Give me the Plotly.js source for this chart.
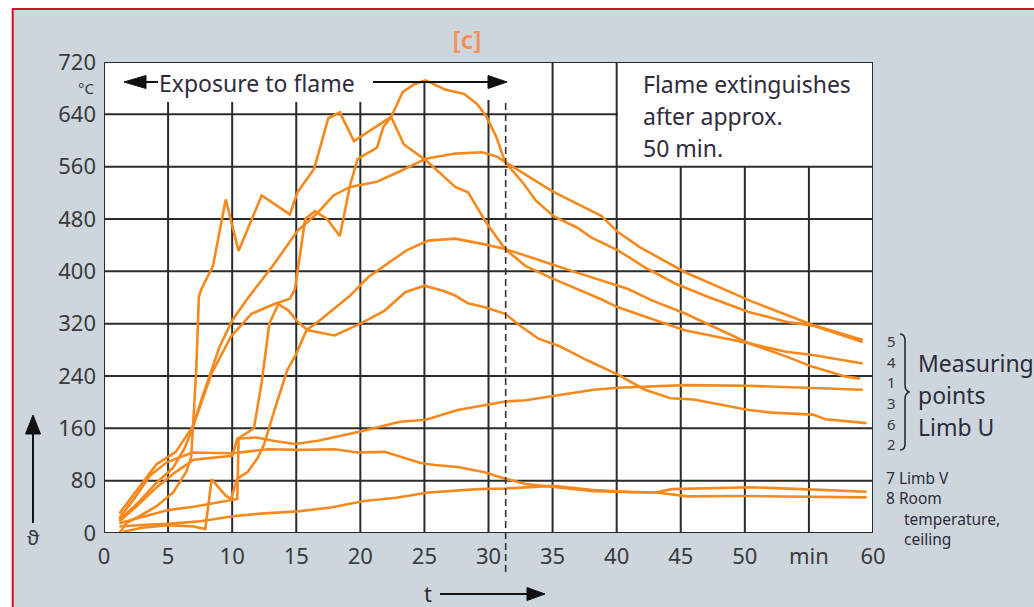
<!DOCTYPE html>
<html><head><meta charset="utf-8">
<script src="https://cdn.plot.ly/plotly-3.0.1.min.js"></script>
<style>body{margin:0;padding:0;background:#fff}#chart{width:1034px;height:607px}</style>
</head><body><div id="chart"></div>
<script>
// ---------- data (time in min, temperature in °C) ----------
const t5 = [1.2,2.8,4.1,5.6,6.9,7.7,8.5,9.0,10,11.3,13.3,15.1,16.7,17.9,19.2,21.3,23.1,25.1,27.4,29.5,30.7,31.3,33.2,35.1,38.8,40.1,41.8,45.3,50.3,55.3,59.2];
const v5 = [30,72,105,124,162,209,254,284,325,361,412,462,490,516,529,537,553,572,580,582,575,567,544,521,485,460,437,399,356,318,295];

const t4a = [1.2,2.6,4.0,5.4,6.3,6.9,8.4,9.9,11.5,13.3,14.5,14.9,15.7,16.45,17.4,18.4,19.2,19.8,21.3,21.8,22.4,23.3,24.2,25.1,26.6,28.1,29.1,29.8,30.6,31.3,32.7,33.7,35.1,36.9,38.0,40.1,42.2,44.6,47,50.3,53.2,55.3,59.2];
const v4a = [20,45,75,100,130,160,244,300,335,350,358,373,480,492,480,454,532,572,589,621,636,674,686,692,678,671,656,638,606,567,535,508,484,467,452,432,406,381,362,338,323,317,292];

const t4 = [1.5,3,5,7,7.9,8.4,9.5,9.9,10.4,11.2,12,12.5,13.3,14.3,15,15.8,16.7,19.1,20.6,22.1,23.6,25.3,27.4,29.5,31.3,33.7,36.9,40.9,42.7,45.3,50.3,53.2,55.3,59.2];
const v4 = [2,8,12,10,6,82,57,52,83,93,115,136,188,249,274,310,323,361,391,411,432,447,450,442,434,419,398,373,356,336,290,277,272,259];

const t1 = [1.2,1.8,2.8,4.1,5.4,6.4,6.8,6.95,7.2,7.4,7.6,8.5,8.8,9.5,10.5,12.3,14.5,15.1,16.4,17.5,18.4,19.5,22.4,23.4,25.1,27.4,28.4,29.8,31.3,32.9,35.1,36.9,38.7,40.1,45.3,50.3,53.2,55.3,57.9,59];
const v1 = [0,16,26,41,62,93,115,163,250,361,373,408,439,510,431,516,487,521,557,634,643,599,636,594,570,529,521,475,434,408,388,373,358,345,310,290,270,254,239,236];

const t3 = [1.2,2.5,4,5.5,7,10,10.4,11.9,13.2,14.9,16.7,20,23.1,25.1,27.6,30.3,31.3,32.9,35.6,38.2,40.1,45.3,50.3,55.3,59.2];
const v3 = [18,40,68,92,112,118,144,146,141,136,141,155,170,173,188,198,201,203,211,219,222,226,225,221,219];

const t6 = [1.2,3,5,7,8.8,9.9,10.4,10.5,11.7,12.3,12.9,13.6,14.4,15.1,15.9,18,20,21.9,23.5,25,26.5,27.4,28.4,29.7,31.3,32.6,33.9,35.6,37.7,40.1,42.2,44.2,46,50.3,52.1,55.3,56.3,59.5];
const v6 = [15,25,35,40,46,50,52,145,160,230,320,350,340,323,310,302,320,340,368,378,370,363,351,345,335,315,297,285,264,242,219,206,204,188,184,181,174,168];

const t7 = [1.2,2.3,3.6,4.9,6.9,10,12.8,15.4,18,19.8,21.9,24.7,25.8,27.6,29.7,31.3,32.9,35.1,38.2,40.9,43,44.3,50.5,54.5,59.5];
const v7 = [23,51,88,108,123,122,128,127,128,123,124,107,104,101,93,83,75,70,64,63,62,67,70,67,63];

const t8 = [1.2,2.5,3.6,5,7.5,10.2,12.5,15.1,17.7,20.3,22.8,25.3,27.5,29.2,31.3,35,38,40.9,43.3,45.5,50,55,59.5];
const v8 = [10,12,13,14,18,26,30,33,39,49,54,62,65,67,68,72,66,62.5,61.5,56,56.5,55,54.5];

const series = [[t5,v5],[t4a,v4a],[t4,v4],[t1,v1],[t3,v3],[t6,v6],[t7,v7],[t8,v8]];

const xTickVals = [0,5,10,15,20,25,30,35,40,45,50,55,60];
const xTickText = ['0','5','10','15','20','25','30','35','40','45','50','min','60'];
const yTickVals = [0,80,160,240,320,400,480,560,640,720];
const yTickText = ['0','80','160','240','320','400','480','560','640','720'];
const pointLabels = ['5','4','1','3','6','2'];
const flameOut = 31.34;

// ---------- layout helpers ----------
const W=1034,H=607,ML=104,MR=161,MT=62,MB=74;
const PL=ML, PR=W-MR, PT=MT, PB=H-MB;
const px = x => (x-PL)/(PR-PL);
const py = y => (PB-y)/(PB-PT);
const FONT = 'Noto Sans, Open Sans, DejaVu Sans, sans-serif';
const ORANGE = '#f6891d';
const GRID = '#2b2b2b';
const TXT = '#2e2b3c';

const traces = series.map(s => ({
  type:'scatter', mode:'lines', x:s[0], y:s[1],
  line:{color:ORANGE, width:2.6, shape:'linear'}, hoverinfo:'skip'
}));

const shapes = [];
// outer white margin + red frame
shapes.push({type:'rect',xref:'paper',yref:'paper',x0:px(-5),x1:px(12),y0:py(620),y1:py(-5),fillcolor:'#fff',line:{width:0},layer:'below'});
shapes.push({type:'rect',xref:'paper',yref:'paper',x0:px(-5),x1:px(1040),y0:py(8),y1:py(-5),fillcolor:'#fff',line:{width:0},layer:'below'});
shapes.push({type:'line',xref:'paper',yref:'paper',x0:px(12.7),x1:px(12.7),y0:py(8.5),y1:py(620),line:{color:'#d2102e',width:2},layer:'below'});
shapes.push({type:'line',xref:'paper',yref:'paper',x0:px(12),x1:px(1040),y0:py(9),y1:py(9),line:{color:'#d2102e',width:2},layer:'below'});

// grid (custom extents)
const vTop = {5:659,10:659,15:659,20:659,25:690,30:662,35:720,40:720,45:560,50:560,55:560};
Object.keys(vTop).forEach(k=>{
  shapes.push({type:'line',xref:'x',yref:'y',x0:+k,x1:+k,y0:0,y1:vTop[k],line:{color:GRID,width:2},layer:'below'});
});
[80,160,240,320,400,480,560].forEach(v=>{
  shapes.push({type:'line',xref:'x',yref:'y',x0:0,x1:60,y0:v,y1:v,line:{color:GRID,width:2},layer:'below'});
});
shapes.push({type:'line',xref:'x',yref:'y',x0:0,x1:40.1,y0:640,y1:640,line:{color:GRID,width:2},layer:'below'});
shapes.push({type:'rect',xref:'x',yref:'y',x0:0,x1:60,y0:0,y1:720,line:{color:GRID,width:2},layer:'above'});
// flame-out dashed line
shapes.push({type:'line',xref:'x',yref:'paper',x0:flameOut,x1:flameOut,y0:py(572),y1:py(99),line:{color:'#333',width:1.6,dash:'7px,4px'},layer:'above'});

// arrows
function hline(x0,x1,y){shapes.push({type:'line',xref:'paper',yref:'paper',x0:px(x0),x1:px(x1),y0:py(y),y1:py(y),line:{color:'#111',width:2}});}
function vline(x,y0,y1){shapes.push({type:'line',xref:'paper',yref:'paper',x0:px(x),x1:px(x),y0:py(y0),y1:py(y1),line:{color:'#111',width:2}});}
function tri(p){shapes.push({type:'path',xref:'paper',yref:'paper',path:'M'+p.map(q=>px(q[0])+','+py(q[1])).join(' L')+' Z',fillcolor:'#111',line:{color:'#111',width:1}});}
hline(140,158,82); tri([[124,82],[146,75.5],[146,88.5]]);
hline(373,492,82); tri([[507,82],[488,75.5],[488,88.5]]);
vline(33,430,523); tri([[33,415],[25.5,434],[40.5,434]]);
hline(440,530,594); tri([[545,594],[527,587.5],[527,600.5]]);
// brace
shapes.push({type:'path',xref:'paper',yref:'paper',line:{color:'#222',width:1.5},
  path:`M${px(900)},${py(334)} Q${px(905)},${py(334)} ${px(905)},${py(341)} L${px(905)},${py(385)} Q${px(905)},${py(391)} ${px(909.5)},${py(392)} Q${px(905)},${py(393)} ${px(905)},${py(399)} L${px(905)},${py(444)} Q${px(905)},${py(450)} ${px(900)},${py(450)}`});

const annotations = [];
function ann(text,x,y,size,xanchor,color){
  annotations.push({text:text,xref:'paper',yref:'paper',x:px(x),y:py(y),xanchor:xanchor||'left',yanchor:'middle',showarrow:false,font:{family:FONT,size:size,color:color||TXT}});
}
ann('Exposure to flame',157,83,23,'left');
ann('Flame extinguishes',641,83.5,23,'left');
ann('after approx.',641,116,23,'left');
ann('50 min.',641,148,23,'left');
ann('°C',96,88,15,'right','#3a3a3a');
ann('ϑ',33,537,20,'center','#3a3a3a');
ann('t',428,593,22,'center','#2e2e2e');
pointLabels.forEach((d,i)=>ann(d,891,341+i*20.7,15,'center','#3a3a3a'));
ann('Measuring',916,363,23,'left');
ann('points',916,395,23,'left');
ann('Limb U',916,427,23,'left');
ann('7 Limb V',884,477.5,15.5,'left');
ann('8 Room',884,498,15.5,'left');
ann('temperature,',902,518.5,15.5,'left');
ann('ceiling',902,539,15.5,'left');

const axisFont = {family:FONT,size:22,color:'#3a3a3a'};
const layout = {
  width:W,height:H,
  margin:{l:ML,r:MR,t:MT,b:MB,pad:0},
  paper_bgcolor:'#cdd6dd',plot_bgcolor:'#ffffff',
  showlegend:false,
  title:{text:'[c]',font:{family:FONT,size:25,color:'#f0925a',weight:600},x:px(467),xref:'paper',xanchor:'center',y:1-40/H,yref:'container',yanchor:'middle'},
  xaxis:{range:[0,60],tickmode:'array',tickvals:xTickVals,ticktext:xTickText,showgrid:false,zeroline:false,showline:false,ticks:'',tickfont:axisFont,ticklabelstandoff:8,fixedrange:true},
  yaxis:{range:[0,720],tickmode:'array',tickvals:yTickVals,ticktext:yTickText,showgrid:false,zeroline:false,showline:false,ticks:'',tickfont:axisFont,ticklabelstandoff:7,fixedrange:true},
  shapes:shapes,annotations:annotations
};
Plotly.newPlot('chart',traces,layout,{staticPlot:true,displayModeBar:false});
</script></body></html>
